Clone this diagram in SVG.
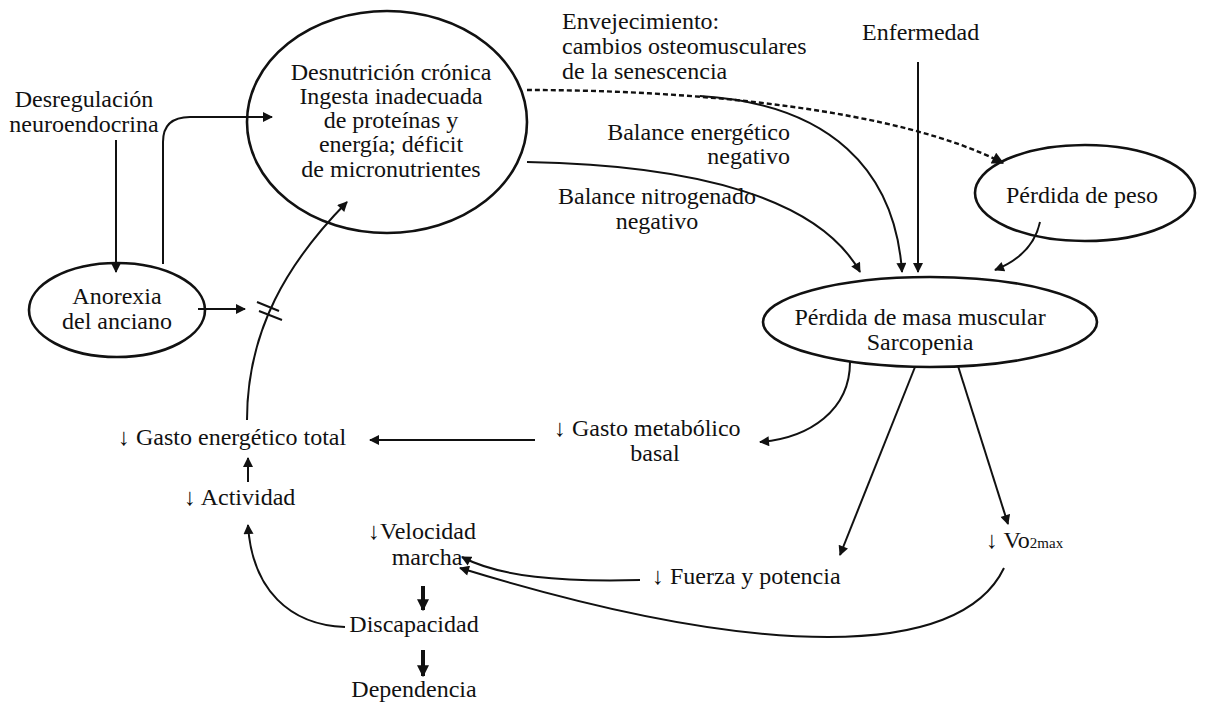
<svg xmlns="http://www.w3.org/2000/svg" width="1208" height="704" viewBox="0 0 1208 704" font-family="'Liberation Serif', 'Times New Roman', serif">
<style>
text{font-size:24px;fill:#111}
.c{text-anchor:middle}
.r{text-anchor:end}
.n{fill:none;stroke:#111;stroke-width:2.6}
.e{fill:none;stroke:#111;stroke-width:2}
.d{stroke-dasharray:5 3;stroke-width:2.4}
.th{stroke-width:4}
</style>
<defs>
<marker id="a" viewBox="0 0 10 10" refX="9" refY="5" markerWidth="5.5" markerHeight="5" orient="auto" markerUnits="strokeWidth"><path d="M0,0 L10,5 L0,10 z" fill="#111"/></marker>
<marker id="b" viewBox="0 0 10 10" refX="9" refY="5" markerWidth="3" markerHeight="3" orient="auto" markerUnits="strokeWidth"><path d="M0,0 L10,5 L0,10 z" fill="#111"/></marker>
</defs>
<rect width="1208" height="704" fill="#fff"/>
<g id="connectors">
<path class="e" d="M116,140 V272" marker-end="url(#a)"/>
<path class="e" d="M163,264 V142 Q163,117 190,117 H272" marker-end="url(#a)"/>
<path class="e" d="M198,309 H245" marker-end="url(#a)"/>
<path class="e" d="M247,420 C247,330 288,262 347,202" marker-end="url(#a)"/>
<path class="e" d="M257,302 L279,311 M259,311 L282,320"/>
<path class="e d" d="M527,90 C700,90 900,110 1003,163" marker-end="url(#a)"/>
<path class="e" d="M700,96 C830,104 895,170 902,272" marker-end="url(#a)"/>
<path class="e" d="M527,162 C700,165 820,200 860,272" marker-end="url(#a)"/>
<path class="e" d="M918,62 V272" marker-end="url(#a)"/>
<path class="e" d="M1040,222 C1035,245 1020,260 995,270" marker-end="url(#a)"/>
<path class="e" d="M850,362 C850,410 810,438 760,442" marker-end="url(#a)"/>
<path class="e" d="M915,367 L840,555" marker-end="url(#a)"/>
<path class="e" d="M958,366 L1008,524" marker-end="url(#a)"/>
<path class="e" d="M535,440 H370" marker-end="url(#a)"/>
<path class="e" d="M640,580 C560,582 500,577 462,557" marker-end="url(#a)"/>
<path class="e" d="M1004,568 C960,660 760,660 460,568" marker-end="url(#a)"/>
<path class="e th" d="M423,586 V610" marker-end="url(#b)"/>
<path class="e th" d="M423,650 V676" marker-end="url(#b)"/>
<path class="e" d="M345,627 C290,625 252,590 248,525" marker-end="url(#a)"/>
<path class="e" d="M248,482 V458" marker-end="url(#a)"/>
</g>
<g id="desnutricion">
<ellipse class="n" cx="387" cy="122" rx="140" ry="111"/>
<text class="c" x="391" y="80">Desnutrición crónica</text>
<text class="c" x="391" y="104">Ingesta inadecuada</text>
<text class="c" x="391" y="128">de proteínas y</text>
<text class="c" x="391" y="152">energía; déficit</text>
<text class="c" x="391" y="177">de micronutrientes</text>
</g>
<g id="desregulacion">
<text class="c" x="84" y="107">Desregulación</text>
<text class="c" x="84" y="132">neuroendocrina</text>
</g>
<g id="anorexia">
<ellipse class="n" cx="117" cy="310" rx="88" ry="47"/>
<text class="c" x="117" y="304">Anorexia</text>
<text class="c" x="117" y="329">del anciano</text>
</g>
<g id="envejecimiento">
<text x="562" y="29">Envejecimiento:</text>
<text x="562" y="54">cambios osteomusculares</text>
<text x="562" y="79">de la senescencia</text>
</g>
<g id="enfermedad"><text x="862" y="40">Enfermedad</text></g>
<g id="balance-energetico">
<text class="r" x="790" y="140">Balance energético</text>
<text class="r" x="790" y="164">negativo</text>
</g>
<g id="balance-nitrogenado">
<text class="c" x="657" y="204">Balance nitrogenado</text>
<text class="c" x="657" y="229">negativo</text>
</g>
<g id="perdida-peso">
<ellipse class="n" cx="1085" cy="193" rx="110" ry="48"/>
<text class="c" x="1082" y="203">Pérdida de peso</text>
</g>
<g id="sarcopenia">
<ellipse class="n" cx="930" cy="322" rx="167" ry="45"/>
<text class="c" x="920" y="325">Pérdida de masa muscular</text>
<text class="c" x="920" y="350">Sarcopenia</text>
</g>
<g id="gasto-total"><text x="118" y="445">↓ Gasto energético total</text></g>
<g id="gasto-metabolico">
<text x="554" y="436">↓ Gasto metabólico</text>
<text class="c" x="655" y="461">basal</text>
</g>
<g id="actividad"><text x="184" y="505">↓ Actividad</text></g>
<g id="velocidad">
<text x="368" y="539">↓Velocidad</text>
<text class="c" x="427" y="565">marcha</text>
</g>
<g id="fuerza"><text x="652" y="584">↓ Fuerza y potencia</text></g>
<g id="vo2max"><text x="986" y="548">↓ Vo<tspan font-size="15">2max</tspan></text></g>
<g id="discapacidad"><text class="c" x="414" y="632">Discapacidad</text></g>
<g id="dependencia"><text class="c" x="414" y="697">Dependencia</text></g>
</svg>
